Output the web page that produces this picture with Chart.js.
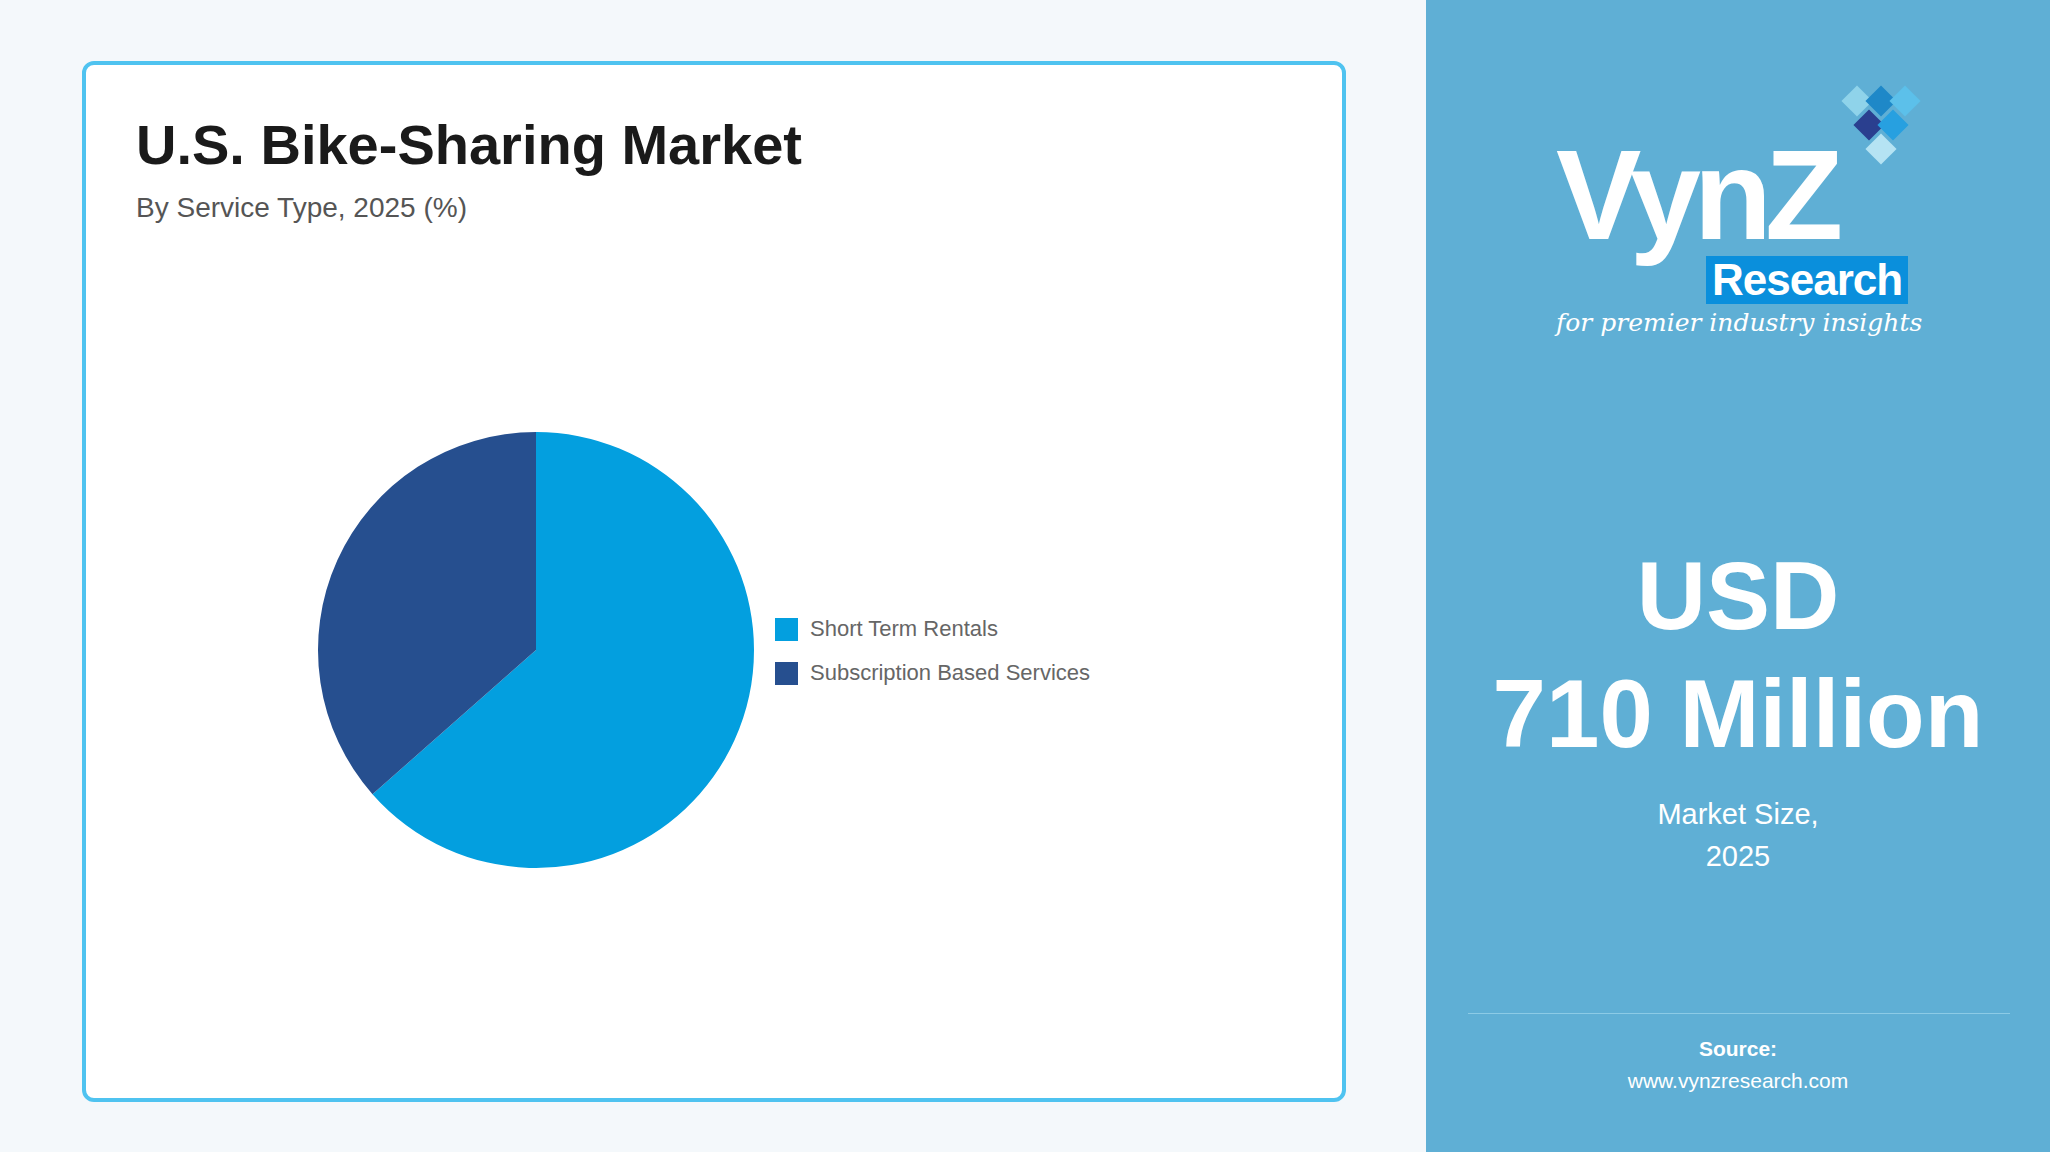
<!DOCTYPE html>
<html><head><meta charset="utf-8">
<script src="https://cdn.jsdelivr.net/npm/chart.js@4"></script>
<style>
body{margin:0;width:2050px;height:1152px;background:#f4f8fb;font-family:"Liberation Sans",Arial,sans-serif;position:relative;overflow:hidden}
.card{position:absolute;left:82px;top:61px;width:1256px;height:1033px;border:4px solid #4fc3f0;border-radius:12px;background:#fff}
.t{position:absolute;left:136px;top:112px;font-size:56px;font-weight:bold;color:#1a1a1a}
.s{position:absolute;left:136px;top:192px;font-size:28px;color:#555}
#cw{position:absolute;left:316px;top:430px;width:440px;height:440px}
.lg{position:absolute;left:775px;font-size:22px;color:#666;display:flex;align-items:center}
.lg i{display:inline-block;width:23px;height:23px;margin-right:12px}
.panel{position:absolute;left:1426px;top:0;width:624px;height:1152px;background:#5fafd5;color:#fff;text-align:center}
.big{position:absolute;left:0;width:624px;font-weight:bold;font-size:96px;line-height:1}
.ms{position:absolute;left:0;width:624px;font-size:29px;line-height:42px;top:793px}
.hr{position:absolute;left:42px;width:542px;top:1013px;border-top:1px solid #8ccbe6}
.logo{position:absolute;left:130px;top:131px;font-size:128px;line-height:1;height:120px;font-weight:bold;letter-spacing:-7px;text-align:left}
.res{position:absolute;left:280px;top:256px;background:#0a8fdc;font-size:44px;line-height:48px;font-weight:bold;padding:0 6px;letter-spacing:-1px}
.tag{position:absolute;left:130px;top:308px;font-size:25px;line-height:30px;font-style:italic;font-family:"DejaVu Serif",serif}
.sq{position:absolute;width:22px;height:22px;transform:rotate(45deg)}
</style></head><body>
<div class="card"></div>
<div class="t">U.S. Bike-Sharing Market</div>
<div class="s">By Service Type, 2025 (%)</div>
<div id="cw"><canvas id="c"></canvas></div>
<div id="legend"></div>
<div class="panel">
 <div class="sq" style="left:420px;top:90px;background:#8fd3ea"></div>
 <div class="sq" style="left:444px;top:90px;background:#1e88c8"></div>
 <div class="sq" style="left:468px;top:90px;background:#5cc0ea"></div>
 <div class="sq" style="left:432px;top:114px;background:#2a3f8f"></div>
 <div class="sq" style="left:456px;top:114px;background:#27a0e0"></div>
 <div class="sq" style="left:444px;top:138px;background:#b5e3f3"></div>
 <div class="logo">VynZ</div>
 <div class="res">Research</div>
 <div class="tag">for premier industry insights</div>
 <div class="big" style="top:548px">USD</div>
 <div class="big" style="top:666px">710 Million</div>
 <div class="ms">Market Size,<br>2025</div>
 <div class="hr"></div>
 <div style="position:absolute;left:0;width:624px;top:1037px;font-size:21px;font-weight:bold">Source:</div>
 <div style="position:absolute;left:0;width:624px;top:1069px;font-size:21px">www.vynzresearch.com</div>
</div>
<script>
const categories=["Short Term Rentals","Subscription Based Services"];
const shares=[63.5,36.5];
const colors=["#039fdf","#264f8f"];
const lg=document.getElementById('legend');
categories.forEach((c,i)=>{const d=document.createElement('div');d.className='lg';d.style.top=(616+i*44)+'px';d.innerHTML='<i style="background:'+colors[i]+'"></i>'+c;lg.appendChild(d);});
new Chart(document.getElementById('c'),{type:'pie',data:{labels:categories,datasets:[{data:shares,backgroundColor:colors,borderWidth:0}]},
options:{responsive:true,maintainAspectRatio:false,animation:false,layout:{padding:2},plugins:{legend:{display:false},tooltip:{enabled:false}}}});
</script>
</body></html>
